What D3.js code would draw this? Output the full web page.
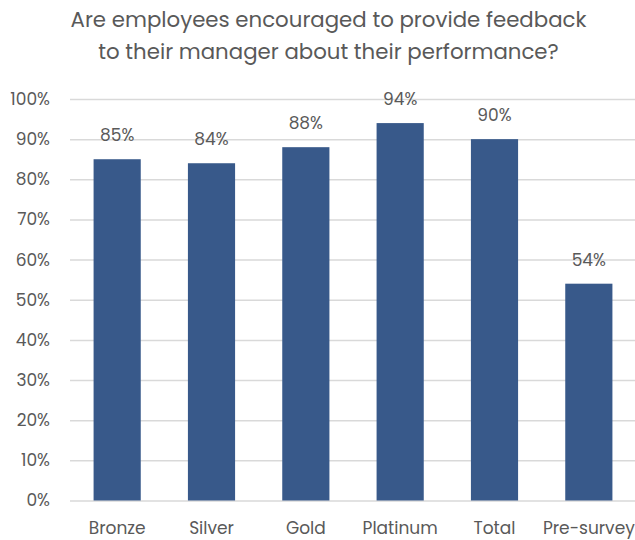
<!DOCTYPE html>
<html>
<head>
<meta charset="utf-8">
<script src="https://cdn.jsdelivr.net/npm/d3@7"></script>
<style>
  html, body { margin: 0; padding: 0; background: #fff; }
  svg { display: block; font-family: Poppins, "Open Sans", sans-serif; }
</style>
</head>
<body>
<svg id="chart" width="635" height="540"></svg>
<script>
const titleLines = [
  "Are employees encouraged to provide feedback",
  "to their manager about their performance?"
];
const categories = ["Bronze", "Silver", "Gold", "Platinum", "Total", "Pre-survey"];
const values = [85, 84, 88, 94, 90, 54];
const yTicks = [0, 10, 20, 30, 40, 50, 60, 70, 80, 90, 100];

const svg = d3.select("#chart");
const textColor = "#595959";
const barColor = "#38598a";
const gridColor = "#d9d9d9";

const x = d3.scaleBand()
  .domain(categories)
  .range([70, 636])
  .paddingInner(0.5)
  .paddingOuter(0.25);

const y = d3.scaleLinear()
  .domain([0, 100])
  .range([500.5, 99]);

// title
svg.append("g")
  .selectAll("text")
  .data(titleLines)
  .join("text")
  .attr("x", 328.5)
  .attr("y", (d, i) => 27 + i * 32)
  .attr("text-anchor", "middle")
  .attr("font-size", 21.3)
  .attr("fill", textColor)
  .text(d => d);

// gridlines and y tick labels
const yAxis = d3.axisLeft(y)
  .tickValues(yTicks)
  .tickSize(-(635 - 70))
  .tickPadding(20)
  .tickFormat(d => d + "%");

const gy = svg.append("g")
  .attr("transform", "translate(70,0)")
  .call(yAxis)
  .attr("font-family", null)
  .attr("font-size", 17);
gy.select(".domain").remove();
gy.selectAll(".tick line")
  .attr("stroke", gridColor)
  .attr("stroke-width", 1.5);
gy.selectAll(".tick text")
  .attr("fill", textColor);

// bars
svg.append("g")
  .selectAll("rect")
  .data(values)
  .join("rect")
  .attr("x", (d, i) => x(categories[i]))
  .attr("y", d => y(d))
  .attr("width", x.bandwidth())
  .attr("height", d => y(0) - y(d))
  .attr("fill", barColor);

// value labels
svg.append("g")
  .selectAll("text")
  .data(values)
  .join("text")
  .attr("x", (d, i) => x(categories[i]) + x.bandwidth() / 2)
  .attr("y", d => y(d) - 18)
  .attr("text-anchor", "middle")
  .attr("font-size", 17)
  .attr("fill", textColor)
  .text(d => d + "%");

// x axis labels
const gx = svg.append("g")
  .attr("transform", "translate(0,500.5)")
  .call(d3.axisBottom(x).tickSize(0).tickPadding(21))
  .attr("font-family", null)
  .attr("font-size", 17);
gx.select(".domain").remove();
gx.selectAll(".tick text")
  .attr("fill", textColor);
</script>
</body>
</html>
